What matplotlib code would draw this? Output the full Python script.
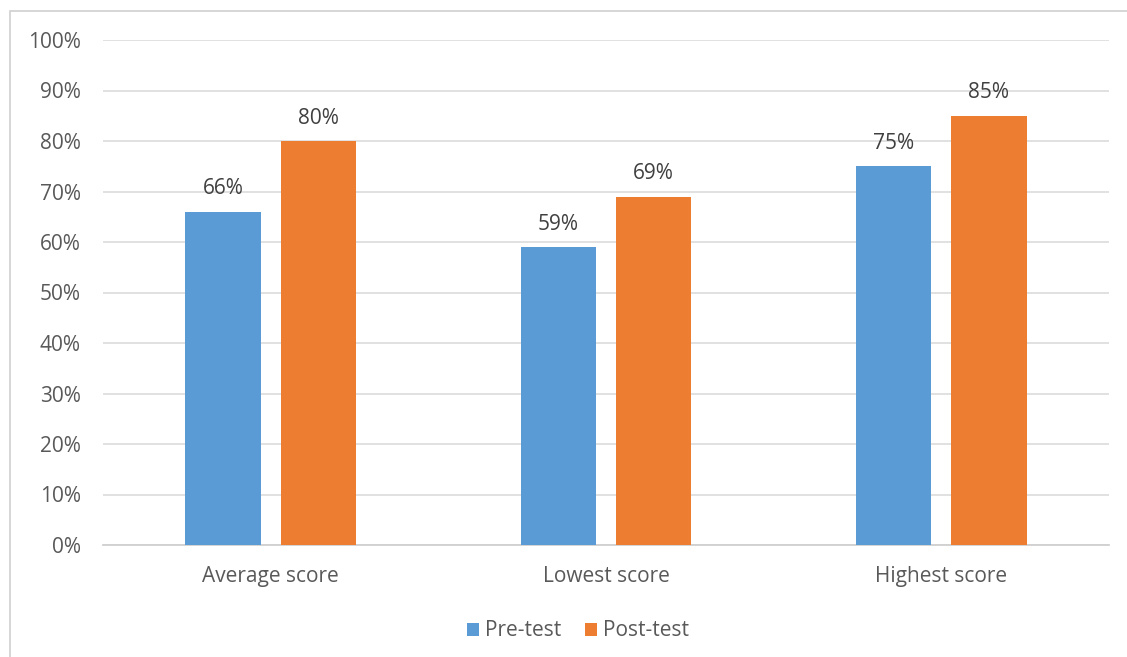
import matplotlib
matplotlib.use("Agg")
import matplotlib.pyplot as plt
from matplotlib.patches import Rectangle
import numpy as np

categories = ["Average score", "Lowest score", "Highest score"]
pre_test = [66, 59, 75]
post_test = [80, 69, 85]
series_names = ["Pre-test", "Post-test"]
yticks = list(range(0, 101, 10))

BLUE = "#5B9BD5"
ORANGE = "#ED7D31"
TEXT = "#595959"
GRID = "#D9D9D9"
FS = 15

plt.rcParams["font.family"] = ["Open Sans", "DejaVu Sans"]

W, H = 1127, 657
fig = plt.figure(figsize=(W / 100, H / 100), dpi=100)
fig.patch.set_facecolor("white")

# chart frame (open at right and bottom edges of the canvas)
fig.add_artist(Rectangle((10 / W, -0.05), 1.2, (H - 11) / H + 0.05,
                         transform=fig.transFigure, fill=False,
                         edgecolor="#D0D0D0", linewidth=1.2))

ax = fig.add_axes([103 / W, (H - 545) / H, (1109 - 103) / W, (545 - 40) / H])

x = np.arange(len(categories))
bw = 0.224
gap = 0.06
b1 = ax.bar(x - (bw + gap) / 2, pre_test, bw, color=BLUE, label=series_names[0], zorder=3)
b2 = ax.bar(x + (bw + gap) / 2, post_test, bw, color=ORANGE, label=series_names[1], zorder=3)

for bars, vals in ((b1, pre_test), (b2, post_test)):
    for rect, v in zip(bars, vals):
        ax.annotate(f"{v}%", (rect.get_x() + rect.get_width() / 2, v),
                    xytext=(0, 23), textcoords="offset pixels",
                    ha="center", va="center", fontsize=FS, color="#404040")

ax.set_xlim(-0.5, 2.5)
ax.set_ylim(0, 100)
ax.set_yticks(yticks)
ax.set_yticklabels([f"{t}%" for t in yticks])
ax.set_xticks(x)
ax.set_xticklabels(categories)
ax.tick_params(axis="both", length=0, labelsize=FS, colors=TEXT)
ax.tick_params(axis="y", pad=16)
ax.tick_params(axis="x", pad=15)
ax.yaxis.grid(True, color=GRID, linewidth=1.1, zorder=0)
for side in ("top", "right", "left"):
    ax.spines[side].set_visible(False)
ax.spines["bottom"].set_color("#D0D0D0")
ax.spines["bottom"].set_linewidth(1.3)

leg = fig.legend(handles=[b1, b2], labels=series_names, loc="center",
                 bbox_to_anchor=(578 / W, (H - 631) / H), ncol=2, frameon=False,
                 fontsize=FS, handlelength=0.6, handleheight=0.6,
                 handletextpad=0.3, columnspacing=1.1)
for t in leg.get_texts():
    t.set_color(TEXT)

fig.savefig("out.png", dpi=100, facecolor="white")
